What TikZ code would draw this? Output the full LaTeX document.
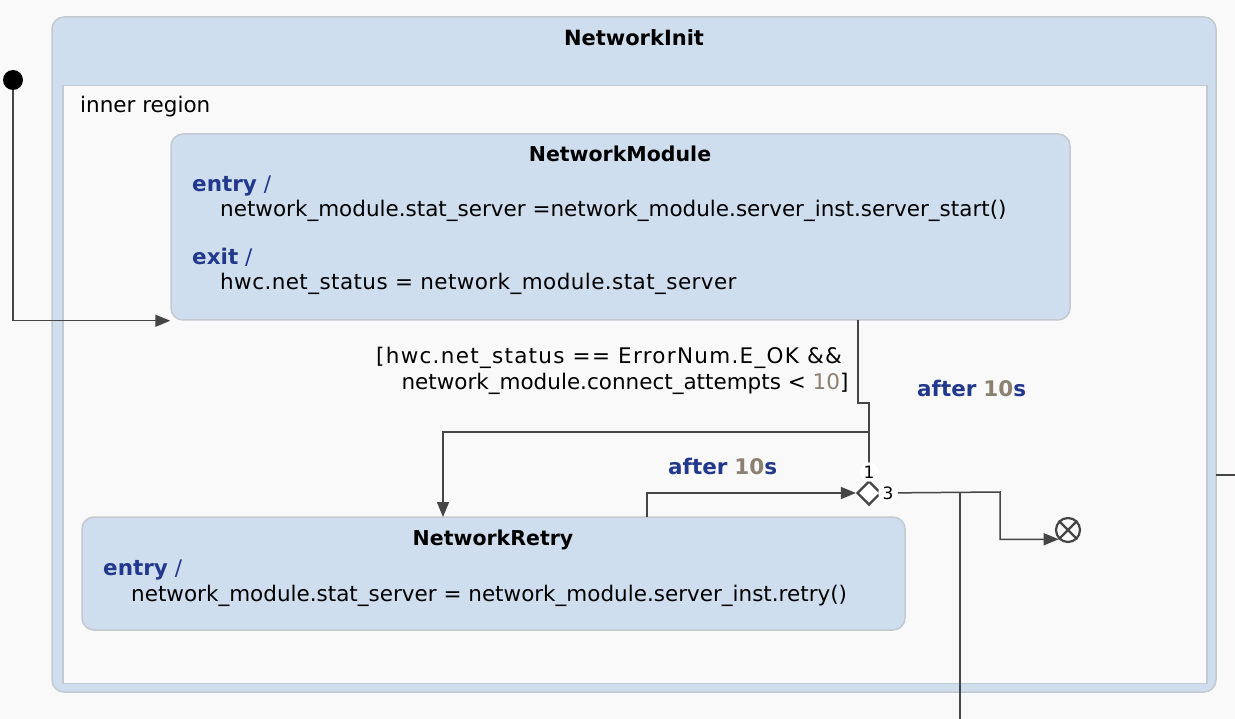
\documentclass[tikz,border=0pt]{standalone}
\usepackage{fontspec}
\setmainfont{DejaVu Sans}
\usetikzlibrary{arrows.meta,shapes.geometric,calc}

\definecolor{bgc}{HTML}{F9F9F9}
\definecolor{statefill}{HTML}{CFDEEE}
\definecolor{stateline}{HTML}{C3C9D1}
\definecolor{kw}{HTML}{22388C}
\definecolor{num}{HTML}{8C8070}
\definecolor{wire}{HTML}{454545}
\newcommand{\kwd}[1]{\textcolor{kw}{\bfseries #1}}
\newcommand{\numb}[1]{\textcolor{num}{#1}}

\tikzset{
  statebox/.style={draw=stateline, line width=1.5pt, fill=statefill,
    rounded corners=12pt, inner sep=0pt},
  regionbox/.style={draw=stateline, line width=1.5pt, fill=bgc, inner sep=0pt},
  txt/.style={anchor=west, inner sep=0pt, text height=15pt, text depth=5pt},
  guard/.style={inner sep=0pt, text height=15pt, text depth=5pt},
  ttl/.style={inner sep=0pt, text height=15pt, text depth=5pt, font=\fontsize{20.5}{24}\selectfont\bfseries},
  wire/.style={draw=wire, line width=1.5pt},
  arr/.style={wire, -{Triangle[length=15pt,width=12pt]}},
  pin/.style={circle, fill=white, inner sep=1pt, font=\fontsize{17}{20}\selectfont}
}

\begin{document}
\begin{tikzpicture}[x=1pt, y=-1pt, font=\fontsize{21.5}{25}\selectfont]
\useasboundingbox[fill=bgc] (0,0) rectangle (1235,719);

% composite state with its region
\node[statebox, minimum width=1164pt, minimum height=675pt] (outer) at (634,354.5) {};
\node[ttl, font=\fontsize{21}{24}\selectfont\bfseries] (outertitle) at (634,41) {NetworkInit};
\node[regionbox, minimum width=1144pt, minimum height=598pt] (region) at (635,384.5) {};
\node[txt] (regionlbl) at (80,108) {inner region};

% NetworkModule
\node[statebox, minimum width=899pt, minimum height=186pt] (module) at (620.5,227) {};
\node[ttl] (moduletitle) at (620,157) {NetworkModule};
\node[txt] (m1) at (192,187) {\kwd{entry} \textcolor{kw}{/}};
\node[txt] (m2) at (220,212) {network\_module.stat\_server =network\_module.server\_inst.server\_start()};
\node[txt] (m3) at (192,260) {\kwd{exit} \textcolor{kw}{/}};
\node[txt] (m4) at (220,285) {\addfontfeature{LetterSpace=2}hwc.net\_status = network\_module.stat\_server};

% NetworkRetry
\node[statebox, minimum width=823pt, minimum height=113pt] (retry) at (493.5,573.5) {};
\node[ttl] (retrytitle) at (493,540) {NetworkRetry};
\node[txt] (r1) at (103,570) {\kwd{entry} \textcolor{kw}{/}};
\node[txt] (r2) at (131,596) {network\_module.stat\_server = network\_module.server\_inst.retry()};

% pseudo states
\node[circle, fill=black, minimum size=20pt, inner sep=0pt] (init) at (13,80) {};
\node[diamond, draw=wire, fill=white, line width=2.2pt, minimum size=24pt, inner sep=0pt] (choice) at (869,493) {};
\node[circle, draw=wire, fill=bgc, line width=2.2pt, minimum size=24pt, inner sep=0pt] (final) at (1068,530) {};
\draw[wire, line width=2.2pt] (final.north west) -- (final.south east)
                               (final.north east) -- (final.south west);

% bend points of the connectors
\coordinate (mOut)   at (858,320);
\coordinate (mJog)   at (858,403);
\coordinate (split)  at (869,432);
\coordinate (rIn)    at (443,517);
\coordinate (rOut)   at (647,517);
\coordinate (cBend)  at (1000,492);
\coordinate (cDrop)  at (960,492);
\coordinate (exitDn) at (960,719);
\coordinate (exitRt) at (1235,475);
\coordinate (oEdge)  at (1216,475);

% connectors
\draw[arr] (init) |- (module.south west);
\draw[wire] (mOut) -- (mJog) -| (choice.north);
\draw[arr] (split) -| (rIn);
\draw[arr] (rOut) |- (choice.west);
\draw[arr] (choice.east) -- (cBend) |- (final.south west);
\draw[wire] (cDrop) -- (exitDn);
\draw[wire] (oEdge) -- (exitRt);

% connector labels
\node[guard] (g1) at (609,358) {\addfontfeature{LetterSpace=6}[hwc.net\_status == ErrorNum.E\_OK \&\&};
\node[guard] (g2) at (625,385) {network\_module.connect\_attempts < \numb{10}]};
\node[txt] (after1) at (917,391) {\kwd{after} \numb{\bfseries 10}\kwd{s}};
\node[txt] (after2) at (668,469) {\kwd{after} \numb{\bfseries 10}\kwd{s}};
\node[pin] (pin1) at (869,472) {1};
\node[pin] (pin3) at (888,493) {3};
\end{tikzpicture}
\end{document}
